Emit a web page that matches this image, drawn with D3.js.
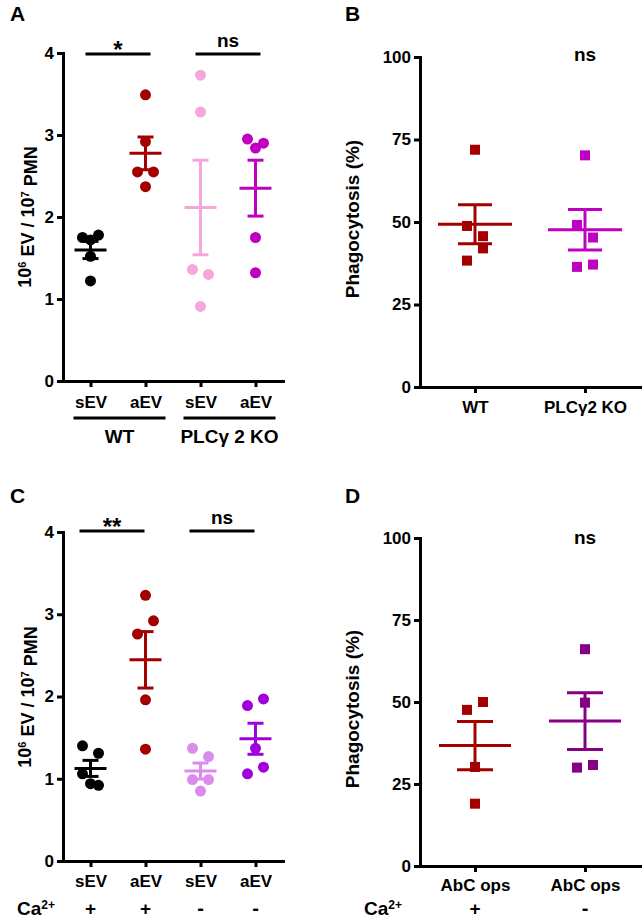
<!DOCTYPE html>
<html>
<head>
<meta charset="utf-8">
<script src="https://cdn.jsdelivr.net/npm/d3@7"></script>
<style>
  body { margin: 0; background: #fff; }
  svg { display: block; }
  text { font-family: "Liberation Sans", Arial, sans-serif; font-weight: bold; fill: #000; }
</style>
</head>
<body>
<div id="fig"></div>
<script>
// Panel A / C : 10^6 EV per 10^7 PMN, one value per donor (replicate order)
var evCats = ['sEV', 'aEV', 'sEV', 'aEV']
var evTicks = [0, 1, 2, 3, 4]

var aWtSev = [1.75, 1.78, 1.72, 1.52, 1.22]
var aWtAev = [3.49, 2.92, 2.55, 2.55, 2.37]
var aKoSev = [3.73, 3.28, 1.36, 1.30, 0.91]
var aKoAev = [2.95, 2.90, 2.84, 1.75, 1.32]

var cCaSev = [1.40, 1.31, 1.06, 0.92, 0.94]
var cCaAev = [3.23, 2.76, 2.92, 1.96, 1.36]
var cNoCaSev = [1.37, 1.27, 0.99, 0.99, 0.85]
var cNoCaAev = [1.89, 1.97, 1.37, 1.06, 1.14]
var caSigns = ['+', '+', '-', '-']

// Panel B / D : phagocytosis (%)
var phagoTicks = [0, 25, 50, 75, 100]
var bCats = ['WT', 'PLC\u03b32 KO']
var bWt = [71.9, 48.8, 45.7, 38.3, 42.0]
var bKo = [70.2, 49.1, 45.3, 36.4, 37.1]

var dCats = ['AbC ops', 'AbC ops']
var dCa = [47.6, 50.0, 30.2, 19.0]
var dNoCa = [66.1, 49.8, 30.0, 30.8]
var dSigns = ['+', '-']

var colA = ['#000000', '#a30000', '#f5a6da', '#c000c0']
var colB = ['#a30000', '#c000c0']
var colC = ['#000000', '#a30000', '#da8ced', '#a000dd']
var colD = ['#a30000', '#860086']

var svg = d3.select('#fig')
      .append('svg')
      .attr('width', 642)
      .attr('height', 921)

// spread points that sit at nearly the same height (GraphPad style scatter)
function jitter(vals, y, step, gap) {
      var idx = d3.range(vals.length).sort((a, b) => vals[b] - vals[a])
      var rows = [], cur = [idx[0]]
      for (var i = 1; i < idx.length; i++) {
            if (y(vals[idx[i]]) - y(vals[idx[i - 1]]) < gap) cur.push(idx[i])
            else { rows.push(cur); cur = [idx[i]] }
      }
      rows.push(cur)
      var off = vals.map(() => 0)
      rows.forEach(r => {
            r.sort((a, b) => a - b)
            var n = r.length
            r.forEach((k, j) => {
                  if (n === 1 || (n % 2 === 1 && j === n - 1)) off[k] = 0
                  else off[k] = j % 2 === 0 ? -step : step
            })
      })
      return off
}

function drawPanel(o) {
      var g = svg.append('g')
      var n = o.labels.length
      var x = d3.scaleLinear().domain([-0.5, n - 0.5]).range([o.left, o.right])
      var y = d3.scaleLinear().domain(o.domain).range([o.bottom, o.top])

      // panel letter
      g.append('text').attr('x', o.letter[1]).attr('y', o.letter[2])
            .style('font-size', '21px').text(o.letter[0])

      // axes
      var ya = g.append('g')
            .attr('transform', `translate(${o.left},0)`)
            .call(d3.axisLeft(y).tickValues(o.ticks).tickFormat(d3.format('d'))
                  .tickSize(6).tickSizeOuter(0).tickPadding(3))
      var xa = g.append('g')
            .attr('transform', `translate(0,${o.bottom})`)
            .call(d3.axisBottom(x).tickValues(d3.range(n)).tickFormat(i => o.labels[i])
                  .tickSize(6).tickSizeOuter(0).tickPadding(o.xPad))
      ;[ya, xa].forEach(a => {
            a.selectAll('path, line').attr('stroke', '#000').attr('stroke-width', 3)
            a.select('path').attr('stroke-linecap', 'square')
            a.selectAll('text').style('font-size', '17px')
      })

      // y label
      var yl = g.append('text')
            .attr('transform', `translate(${o.yLab[0]},${o.yLab[1]}) rotate(-90)`)
            .attr('text-anchor', 'middle')
      if (o.ev) {
            yl.style('font-size', '18px')
            yl.append('tspan').text('10')
            yl.append('tspan').attr('dy', '-0.45em').style('font-size', '11px').text('6')
            yl.append('tspan').attr('dy', '0.45em').text(' EV / 10')
            yl.append('tspan').attr('dy', '-0.45em').style('font-size', '11px').text('7')
            yl.append('tspan').attr('dy', '0.45em').text(' PMN')
      } else {
            yl.style('font-size', '19px').text('Phagocytosis (%)')
      }

      // points
      o.groups.forEach((vals, gi) => {
            var off = jitter(vals, y, 8, 13.5)
            var pts = g.append('g').attr('fill', o.colors[gi])
            if (o.square) {
                  pts.selectAll('rect').data(vals).enter().append('rect')
                        .attr('x', (d, i) => x(gi) + off[i] - 5)
                        .attr('y', d => y(d) - 5)
                        .attr('width', 10).attr('height', 10)
            } else {
                  pts.selectAll('circle').data(vals).enter().append('circle')
                        .attr('cx', (d, i) => x(gi) + off[i])
                        .attr('cy', d => y(d))
                        .attr('r', 5.5)
            }
      })

      // mean +/- SEM
      o.groups.forEach((vals, gi) => {
            var m = d3.mean(vals)
            var sem = d3.deviation(vals) / Math.sqrt(vals.length)
            var cx = x(gi)
            var eb = g.append('g').attr('stroke', o.colors[gi]).attr('stroke-width', 3)
            eb.append('line').attr('x1', cx).attr('x2', cx).attr('y1', y(m - sem)).attr('y2', y(m + sem))
            ;[m - sem, m + sem].forEach(v => {
                  eb.append('line').attr('x1', cx - o.capW).attr('x2', cx + o.capW)
                        .attr('y1', y(v)).attr('y2', y(v))
            })
            eb.append('line').attr('x1', cx - o.meanW).attr('x2', cx + o.meanW)
                  .attr('y1', y(m)).attr('y2', y(m))
      })

      return { g: g, x: x, y: y }
}

function sigBar(p, i, j, lineY, label, textY, size, shift) {
      var x1 = p.x(i) - 5 + shift, x2 = p.x(j) + 5 + shift
      p.g.append('line').attr('x1', x1).attr('x2', x2).attr('y1', lineY).attr('y2', lineY)
            .attr('stroke', '#000').attr('stroke-width', 3)
      p.g.append('text').attr('x', (x1 + x2) / 2).attr('y', textY)
            .attr('text-anchor', 'middle').style('font-size', size + 'px').text(label)
}

function caRow(p, signs, labelX, rowY) {
      var t = p.g.append('text').attr('x', labelX).attr('y', rowY).style('font-size', '19px')
      t.append('tspan').text('Ca')
      t.append('tspan').attr('dy', '-0.5em').style('font-size', '12px').text('2+')
      signs.forEach((s, i) => {
            p.g.append('text').attr('x', p.x(i)).attr('y', rowY).attr('text-anchor', 'middle')
                  .style('font-size', s === '+' ? '19px' : '20px').text(s)
      })
}

// A
var A = drawPanel({
      letter: ['A', 10, 21], left: 63, right: 283, top: 53, bottom: 381,
      domain: [0, 4], ticks: evTicks, labels: evCats, xPad: 9,
      groups: [aWtSev, aWtAev, aKoSev, aKoAev], colors: colA,
      meanW: 16, capW: 8, ev: true, yLab: [31, 217]
})
sigBar(A, 0, 1, 54, '*', 58, 24, 0)
sigBar(A, 2, 3, 54, 'ns', 47, 19, 0)
;[[0, 1, 'WT'], [2, 3, 'PLC\u03b3 2 KO']].forEach(r => {
      var x1 = A.x(r[0]) - 17, x2 = A.x(r[1]) + 20
      A.g.append('line').attr('x1', x1).attr('x2', x2).attr('y1', 418).attr('y2', 418)
            .attr('stroke', '#000').attr('stroke-width', 3)
      A.g.append('text').attr('x', (x1 + x2) / 2).attr('y', 443).attr('text-anchor', 'middle')
            .style('font-size', '19px').text(r[2])
})

// B
var B = drawPanel({
      letter: ['B', 345, 21], left: 420, right: 640, top: 57, bottom: 387,
      domain: [0, 100], ticks: phagoTicks, labels: bCats, xPad: 8,
      groups: [bWt, bKo], colors: colB, square: true,
      meanW: 37, capW: 17, ev: false, yLab: [359, 219]
})
B.g.append('text').attr('x', B.x(1)).attr('y', 61).attr('text-anchor', 'middle')
      .style('font-size', '19px').text('ns')

// C
var C = drawPanel({
      letter: ['C', 10, 503], left: 63, right: 283, top: 532, bottom: 861,
      domain: [0, 4], ticks: evTicks, labels: evCats, xPad: 8,
      groups: [cCaSev, cCaAev, cNoCaSev, cNoCaAev], colors: colC,
      meanW: 16, capW: 8, ev: true, yLab: [31, 697]
})
sigBar(C, 0, 1, 531, '**', 535, 24, -6)
sigBar(C, 2, 3, 531, 'ns', 524, 19, -6)
caRow(C, caSigns, 17, 915)

// D
var D = drawPanel({
      letter: ['D', 345, 503], left: 420, right: 640, top: 538, bottom: 866,
      domain: [0, 100], ticks: phagoTicks, labels: dCats, xPad: 7,
      groups: [dCa, dNoCa], colors: colD, square: true,
      meanW: 36, capW: 18, ev: false, yLab: [359, 709]
})
D.g.append('text').attr('x', D.x(1)).attr('y', 544).attr('text-anchor', 'middle')
      .style('font-size', '19px').text('ns')
caRow(D, dSigns, 364, 915)
</script>
</body>
</html>
